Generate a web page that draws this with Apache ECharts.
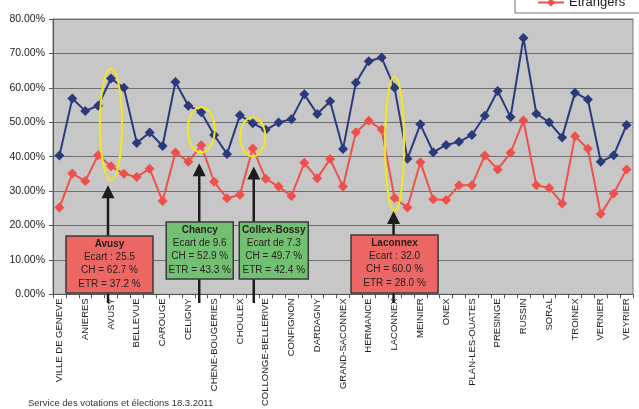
<!DOCTYPE html>
<html>
<head>
<meta charset="utf-8">
<script src="https://cdn.jsdelivr.net/npm/echarts@6/dist/echarts.min.js"></script>
<style>
  html, body { margin: 0; padding: 0; background: #ffffff; }
  #c { width: 639px; height: 409px; }
</style>
</head>
<body>
<div id="c"></div>
<script>
// Communes of the canton of Geneva (Ville de Genève first, then alphabetical)
const communes = [
  'VILLE DE GENEVE', 'AIRE-LA-VILLE', 'ANIERES', 'AVULLY', 'AVUSY', 'BARDONNEX',
  'BELLEVUE', 'BERNEX', 'CAROUGE', 'CARTIGNY', 'CELIGNY', 'CHANCY',
  'CHENE-BOUGERIES', 'CHENE-BOURG', 'CHOULEX', 'COLLEX-BOSSY', 'COLLONGE-BELLERIVE',
  'COLOGNY', 'CONFIGNON', 'CORSIER', 'DARDAGNY', 'GENTHOD', 'GRAND-SACONNEX', 'GY',
  'HERMANCE', 'JUSSY', 'LACONNEX', 'LANCY', 'MEINIER', 'MEYRIN', 'ONEX',
  'PERLY-CERTOUX', 'PLAN-LES-OUATES', 'PREGNY-CHAMBESY', 'PRESINGE', 'PUPLINGE',
  'RUSSIN', 'SATIGNY', 'SORAL', 'THONEX', 'TROINEX', 'VANDOEUVRES', 'VERNIER',
  'VERSOIX', 'VEYRIER'
];

// Turnout (%) of Swiss voters per commune
const suisses = [
  40.3, 56.9, 53.3, 54.8, 62.7, 60.0, 44.0, 47.0, 43.1, 61.7,
  54.8, 52.9, 46.3, 40.8, 52.0, 49.7, 47.8, 49.9, 50.9, 58.1,
  52.4, 56.1, 42.2, 61.5, 67.7, 68.8, 60.0, 39.4, 49.4, 41.3,
  43.4, 44.3, 46.3, 51.9, 59.1, 51.5, 74.5, 52.5, 50.0, 45.6,
  58.6, 56.6, 38.5, 40.4, 49.2
];

// Turnout (%) of foreign voters per commune
const etrangers = [
  25.2, 35.1, 32.9, 40.4, 37.2, 35.0, 34.1, 36.5, 27.1, 41.2,
  38.5, 43.3, 32.7, 27.9, 28.9, 42.4, 33.6, 31.3, 28.6, 38.2,
  33.7, 39.3, 31.3, 47.1, 50.4, 47.9, 28.0, 25.2, 38.4, 27.6,
  27.4, 31.7, 31.7, 40.3, 36.3, 41.1, 50.5, 31.7, 30.9, 26.4,
  45.9, 42.3, 23.3, 29.3, 36.3
];

// Y axis ticks (%)
const yTicks = { min: 0, max: 80, step: 10 };

// Highlighted communes with their callout boxes
const callouts = [
  { name: 'Avusy',        idx: 4,  prefix: 'Ecart : ',   fill: '#ec6764' },
  { name: 'Chancy',       idx: 11, prefix: 'Ecart de ',  fill: '#72c172' },
  { name: 'Collex-Bossy', idx: 15, prefix: 'Ecart de ',  fill: '#72c172' },
  { name: 'Laconnex',     idx: 26, prefix: 'Ecart : ',   fill: '#ec6764' }
];
// Callout geometry (pixels): arrow offset, ellipse padding, arrow gap, box placement
const calloutLayout = {
  'Avusy':        { ax: -3, ecy: 2, pad: 12, rx: 11,   tipGap: 5,  boxDx: 1.5, boxTop: 236, boxW: 87, boxH: 57 },
  'Chancy':       { ax: -2, ecy: 1, pad: 6,  rx: 13.5, tipGap: 11, boxDx: 0.5, boxTop: 222, boxW: 67, boxH: 57 },
  'Collex-Bossy': { ax: 1,  ecy: 1, pad: 7,  rx: 12.5, tipGap: 10, boxDx: 20,  boxTop: 222, boxW: 69, boxH: 57 },
  'Laconnex':     { ax: -1, ecy: 1, pad: 12, rx: 9.5,  tipGap: 0,  boxDx: 1,   boxTop: 235, boxW: 87, boxH: 58 }
};

const FONT = '"Liberation Sans", Arial, sans-serif';
const chart = echarts.init(document.getElementById('c'), null, { renderer: 'canvas' });

chart.setOption({
  animation: false,
  backgroundColor: '#ffffff',
  textStyle: { fontFamily: FONT },
  grid: {
    left: 53, right: 6, top: 19, bottom: 111.5,
    show: true, backgroundColor: '#c7c7c7', borderColor: '#7d7d7d', borderWidth: 1
  },
  legend: {
    data: ['Suisses', 'Etrangers'],
    orient: 'vertical',
    left: 515, top: -27,
    padding: [4, 40, 4, 22],
    itemWidth: 26, itemHeight: 10, itemGap: 6,
    backgroundColor: '#ffffff', borderColor: '#777777', borderWidth: 1,
    textStyle: { fontSize: 13, color: '#222222', fontFamily: FONT }
  },
  xAxis: {
    type: 'category',
    data: communes,
    boundaryGap: true,
    axisLine: { lineStyle: { color: '#555555', width: 1 } },
    axisTick: { show: true, interval: 0, length: 4, lineStyle: { color: '#555555' } },
    axisLabel: { interval: 1, rotate: 90, fontSize: 9.5, color: '#222222', margin: 4, fontFamily: FONT },
    splitLine: { show: false }
  },
  yAxis: {
    type: 'value',
    min: yTicks.min, max: yTicks.max, interval: yTicks.step,
    axisLine: { show: true, lineStyle: { color: '#555555' } },
    axisTick: { show: true, length: 4, lineStyle: { color: '#555555' } },
    axisLabel: { formatter: v => v.toFixed(2) + '%', fontSize: 10.5, color: '#222222', margin: 8, fontFamily: FONT },
    splitLine: { lineStyle: { color: '#6f6f6f', width: 1 } }
  },
  series: [
    {
      name: 'Suisses', type: 'line', data: suisses,
      symbol: 'diamond', symbolSize: 10, showAllSymbol: true,
      itemStyle: { color: '#2a3a7c' },
      lineStyle: { color: '#2a3a7c', width: 2 }
    },
    {
      name: 'Etrangers', type: 'line', data: etrangers,
      symbol: 'diamond', symbolSize: 10, showAllSymbol: true,
      itemStyle: { color: '#f0504b' },
      lineStyle: { color: '#f0504b', width: 2 }
    }
  ]
});

// Build callouts (ellipse around the pair of points, arrow, text box) from the data positions
const graphics = [];
const toPx = (i, v) => chart.convertToPixel({ gridIndex: 0 }, [i, v]);
callouts.forEach(c => {
  const L = calloutLayout[c.name];
  const ch = suisses[c.idx], etr = etrangers[c.idx];
  const pb = toPx(c.idx, ch), pr = toPx(c.idx, etr);
  const cx = pb[0];
  const cy = (pb[1] + pr[1]) / 2 + L.ecy;
  const ry = (pr[1] - pb[1]) / 2 + L.pad;
  graphics.push({
    type: 'ellipse', z: 20,
    shape: { cx: cx, cy: cy, rx: L.rx, ry: ry },
    style: { fill: null, stroke: '#f2e81a', lineWidth: 2 }
  });
  const ax = cx + L.ax;
  const tip = cy + ry + L.tipGap;
  graphics.push({
    type: 'line', z: 20,
    shape: { x1: ax, y1: tip + 10, x2: ax, y2: 303 },
    style: { stroke: '#1c1c1c', lineWidth: 2.5 }
  });
  graphics.push({
    type: 'polygon', z: 20,
    shape: { points: [[ax, tip], [ax - 6.5, tip + 13], [ax + 6.5, tip + 13]] },
    style: { fill: '#1c1c1c' }
  });
  const bx = ax + L.boxDx - L.boxW / 2;
  graphics.push({
    type: 'rect', z: 21,
    shape: { x: bx, y: L.boxTop, width: L.boxW, height: L.boxH },
    style: { fill: c.fill, stroke: '#3a3a3a', lineWidth: 1.5 }
  });
  const lines = [
    { t: c.name, bold: true },
    { t: c.prefix + (ch - etr).toFixed(1) },
    { t: 'CH = ' + ch.toFixed(1) + ' %' },
    { t: 'ETR = ' + etr.toFixed(1) + ' %' }
  ];
  lines.forEach((ln, k) => {
    graphics.push({
      type: 'text', z: 22,
      x: bx + L.boxW / 2, y: L.boxTop + 8 + k * 13.3,
      style: {
        text: ln.t, align: 'center', verticalAlign: 'middle',
        fontFamily: FONT, fontSize: 10, fontWeight: ln.bold ? 'bold' : 'normal',
        fill: '#2a2020'
      }
    });
  });
});

// Source line
graphics.push({
  type: 'text', z: 22, x: 28, y: 403,
  style: {
    text: 'Service des votations et élections 18.3.2011',
    verticalAlign: 'middle', fontFamily: FONT, fontSize: 9.5, fill: '#333333'
  }
});

chart.setOption({ graphic: graphics });
</script>
</body>
</html>
